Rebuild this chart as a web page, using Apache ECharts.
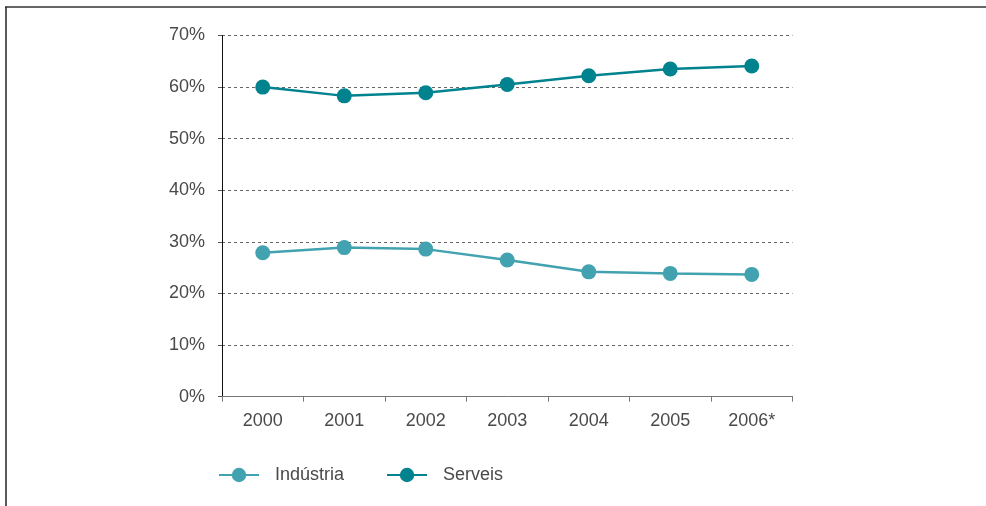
<!DOCTYPE html>
<html>
<head>
<meta charset="utf-8">
<script src="https://cdn.jsdelivr.net/npm/echarts@6/dist/echarts.min.js"></script>
<style>
html,body{margin:0;padding:0;background:#fff;}
#chart{width:986px;height:506px;}
</style>
</head>
<body>
<div id="chart"></div>
<script>
const categories = ['2000','2001','2002','2003','2004','2005','2006*'];
const industria = [27.9, 28.9, 28.6, 26.5, 24.2, 23.9, 23.7];
const serveis = [60.0, 58.3, 58.9, 60.5, 62.2, 63.5, 64.1];
const seriesNames = ['Indústria','Serveis'];
const yTicks = {min: 0, max: 70, interval: 10};

const FONT = 'Liberation Sans';
const TXT = '#4a4a4a';

const chart = echarts.init(document.getElementById('chart'));
chart.setOption({
  animation: false,
  backgroundColor: '#fff',
  textStyle: {fontFamily: FONT},
  graphic: [
    {type: 'line', shape: {x1: 5, y1: 7, x2: 986, y2: 7}, style: {stroke: '#666', lineWidth: 2}},
    {type: 'line', shape: {x1: 6, y1: 7, x2: 6, y2: 506}, style: {stroke: '#222', lineWidth: 1.5}}
  ],
  grid: {left: 222, right: 193.5, top: 35.5, bottom: 109.3, containLabel: false},
  legend: {
    left: 218, top: 466, padding: 0,
    itemWidth: 40, itemHeight: 18, itemGap: 42,
    textStyle: {fontFamily: FONT, fontSize: 18, color: TXT, padding: [0,0,0,11]},
    data: seriesNames
  },
  xAxis: {
    type: 'category',
    data: categories,
    boundaryGap: true,
    axisLine: {lineStyle: {color: '#777', width: 1}},
    axisTick: {show: true, interval: 0, length: 5, lineStyle: {color: '#777'}},
    axisLabel: {fontFamily: FONT, fontSize: 18, color: TXT, margin: 15}
  },
  yAxis: {
    type: 'value',
    min: yTicks.min, max: yTicks.max, interval: yTicks.interval,
    axisLine: {show: true, lineStyle: {color: '#111', width: 1}},
    axisTick: {show: true, length: 4, lineStyle: {color: '#555'}},
    axisLabel: {fontFamily: FONT, fontSize: 18, color: TXT, margin: 17, formatter: '{value}%'},
    splitLine: {show: true, lineStyle: {color: '#666', type: [3,3], width: 1}}
  },
  series: [
    {
      name: seriesNames[0], type: 'line', data: industria,
      symbol: 'circle', symbolSize: 15,
      lineStyle: {color: '#42a2b0', width: 2.5},
      itemStyle: {color: '#42a2b0'}
    },
    {
      name: seriesNames[1], type: 'line', data: serveis,
      symbol: 'circle', symbolSize: 15,
      lineStyle: {color: '#00838f', width: 2.5},
      itemStyle: {color: '#00838f'}
    }
  ]
});
</script>
</body>
</html>
